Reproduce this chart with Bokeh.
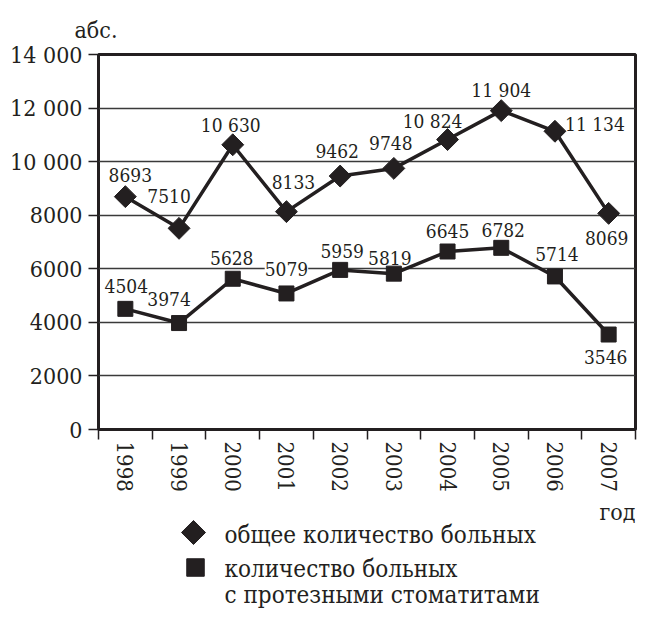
import numpy as np
from bokeh.plotting import figure
from bokeh.models import ColumnDataSource, Range1d, FixedTicker
from bokeh.layouts import column
from bokeh.core.properties import value
from bokeh.embed import file_html
from bokeh.resources import INLINE

# ---- data ----
years = ["1998", "1999", "2000", "2001", "2002", "2003", "2004", "2005", "2006", "2007"]
total_patients = [8693, 7510, 10630, 8133, 9462, 9748, 10824, 11904, 11134, 8069]
stomatitis_patients = [4504, 3974, 5628, 5079, 5959, 5819, 6645, 6782, 5714, 3546]
y_ticks = [0, 2000, 4000, 6000, 8000, 10000, 12000, 14000]

legend_total = "общее количество больных"
legend_stom_1 = "количество больных"
legend_stom_2 = "с протезными стоматитами"
y_unit = "абс."
x_unit = "год"

# ---- label placement (pixels) ----
total_dx = [5, -10, -2, 7, -3, -3, -15, 0, 40, -2]
total_dy = [-22, -32, -20, -30, -25, -25, -19, -21, -7, 25]
stom_dx = [1, -10, -1, 0, 2, -4, 0, 2, 2, -3]
stom_dy = [-23, -24, -21, -24, -19, -16, -21, -18, -22, 22]
stom_bg = ["rgba(0,0,0,0)"] * 3 + ["white"] + ["rgba(0,0,0,0)"] * 6

INK = "#231f20"
FONT = "DejaVu Serif Condensed, DejaVu Serif"


def fmt(v):
    return f"{v:,}".replace(",", " ") if v >= 10000 else str(v)


xs = np.arange(len(years)) + 0.5

FL, FW = 98, 537    # frame left, frame width (canvas px)
FT, FH = 54, 375    # frame top, frame height
FB = 67             # space below the frame for the year labels
RB = 639 - FL - FW

p = figure(frame_width=FW, frame_height=FH, output_backend="svg", toolbar_location=None,
           x_range=Range1d(0, len(years)), y_range=Range1d(0, 14000),
           min_border_left=FL, min_border_right=RB, min_border_top=FT, min_border_bottom=FB)
p.background_fill_color = "white"
p.border_fill_color = "white"
p.outline_line_color = INK
p.outline_line_width = 3

p.title.text = y_unit
p.title.align = "left"
p.title.offset = -24
p.title.standoff = 24
p.title.text_font = FONT
p.title.text_font_style = "normal"
p.title.text_font_size = "23px"
p.title.text_color = INK

# y axis
yax = p.yaxis[0]
yax.ticker = FixedTicker(ticks=y_ticks)
yax.major_label_overrides = {v: fmt(v) for v in y_ticks}
yax.major_tick_out = 10
yax.major_tick_in = 0
yax.major_tick_line_width = 1.5
yax.major_tick_line_color = INK
yax.minor_tick_line_color = None
yax.axis_line_color = None
yax.major_label_standoff = 6
yax.major_label_text_font = FONT
yax.major_label_text_font_size = "23px"
yax.major_label_text_color = INK

# x axis: labels at centers, ticks at boundaries
xax = p.xaxis[0]
xax.ticker = FixedTicker(ticks=list(xs), minor_ticks=list(range(len(years) + 1)))
xax.major_label_overrides = {float(x): y for x, y in zip(xs, years)}
xax.major_tick_out = 0
xax.major_tick_in = 0
xax.minor_tick_out = 10
xax.minor_tick_in = 0
xax.minor_tick_line_width = 1.5
xax.minor_tick_line_color = INK
xax.axis_line_color = None
xax.major_label_orientation = "vertical"
xax.major_label_standoff = 2
xax.major_label_text_font = FONT
xax.major_label_text_font_size = "22px"
xax.major_label_text_color = INK

p.xgrid.visible = False
p.ygrid.ticker = FixedTicker(ticks=y_ticks)
p.ygrid.grid_line_color = "#3a3a3a"
p.ygrid.grid_line_width = 1.4

src_t = ColumnDataSource(dict(x=xs, y=total_patients, lab=[fmt(v) for v in total_patients],
                              dx=total_dx, dy=total_dy))
src_s = ColumnDataSource(dict(x=xs, y=stomatitis_patients, lab=[fmt(v) for v in stomatitis_patients],
                              dx=stom_dx, dy=stom_dy, bg=stom_bg))

p.line("x", "y", source=src_t, line_color=INK, line_width=3.5)
p.line("x", "y", source=src_s, line_color=INK, line_width=3.5)

p.text("x", "y", text="lab", source=src_t, x_offset="dx", y_offset="dy",
       text_align="center", text_baseline="middle",
       text_font=value(FONT), text_font_size="19px", text_color=INK)
p.text("x", "y", text="lab", source=src_s, x_offset="dx", y_offset="dy",
       text_align="center", text_baseline="middle",
       text_font=value(FONT), text_font_size="19px", text_color=INK,
       background_fill_color="bg")

p.scatter("x", "y", source=src_t, marker="square", angle=np.pi / 4, size=15.5,
          fill_color=INK, line_color=INK)
p.scatter("x", "y", source=src_s, marker="square", size=15,
          fill_color=INK, line_color=INK)

# ---- legend panel (frame aligned with the chart frame: data x == canvas x) ----
LH = 608 - (FT + FH + FB)
leg = figure(frame_width=FW, frame_height=LH, output_backend="svg", toolbar_location=None,
             x_range=Range1d(FL, FL + FW), y_range=Range1d(LH, 0),
             min_border_left=FL, min_border_right=RB, min_border_top=0, min_border_bottom=0)
leg.axis.visible = False
leg.grid.visible = False
leg.outline_line_color = None
leg.background_fill_color = "white"
leg.border_fill_color = "white"

leg.text(x=[FL + FW], y=[15], text=[x_unit], text_align="right", text_baseline="middle",
         text_font=value(FONT), text_font_size="23px", text_color=INK)
leg.scatter(x=[193], y=[36], marker="square", angle=np.pi / 4, size=17,
            fill_color=INK, line_color=INK)
leg.scatter(x=[195], y=[71], marker="square", size=17.5, fill_color=INK, line_color=INK)
leg.text(x=[224, 224, 224], y=[38, 72, 98], text=[legend_total, legend_stom_1, legend_stom_2],
         text_align="left", text_baseline="middle",
         text_font=value(FONT), text_font_size="24px", text_color=INK)

layout = column(p, leg, spacing=0)
open("out.html", "w").write(file_html(layout, INLINE))
